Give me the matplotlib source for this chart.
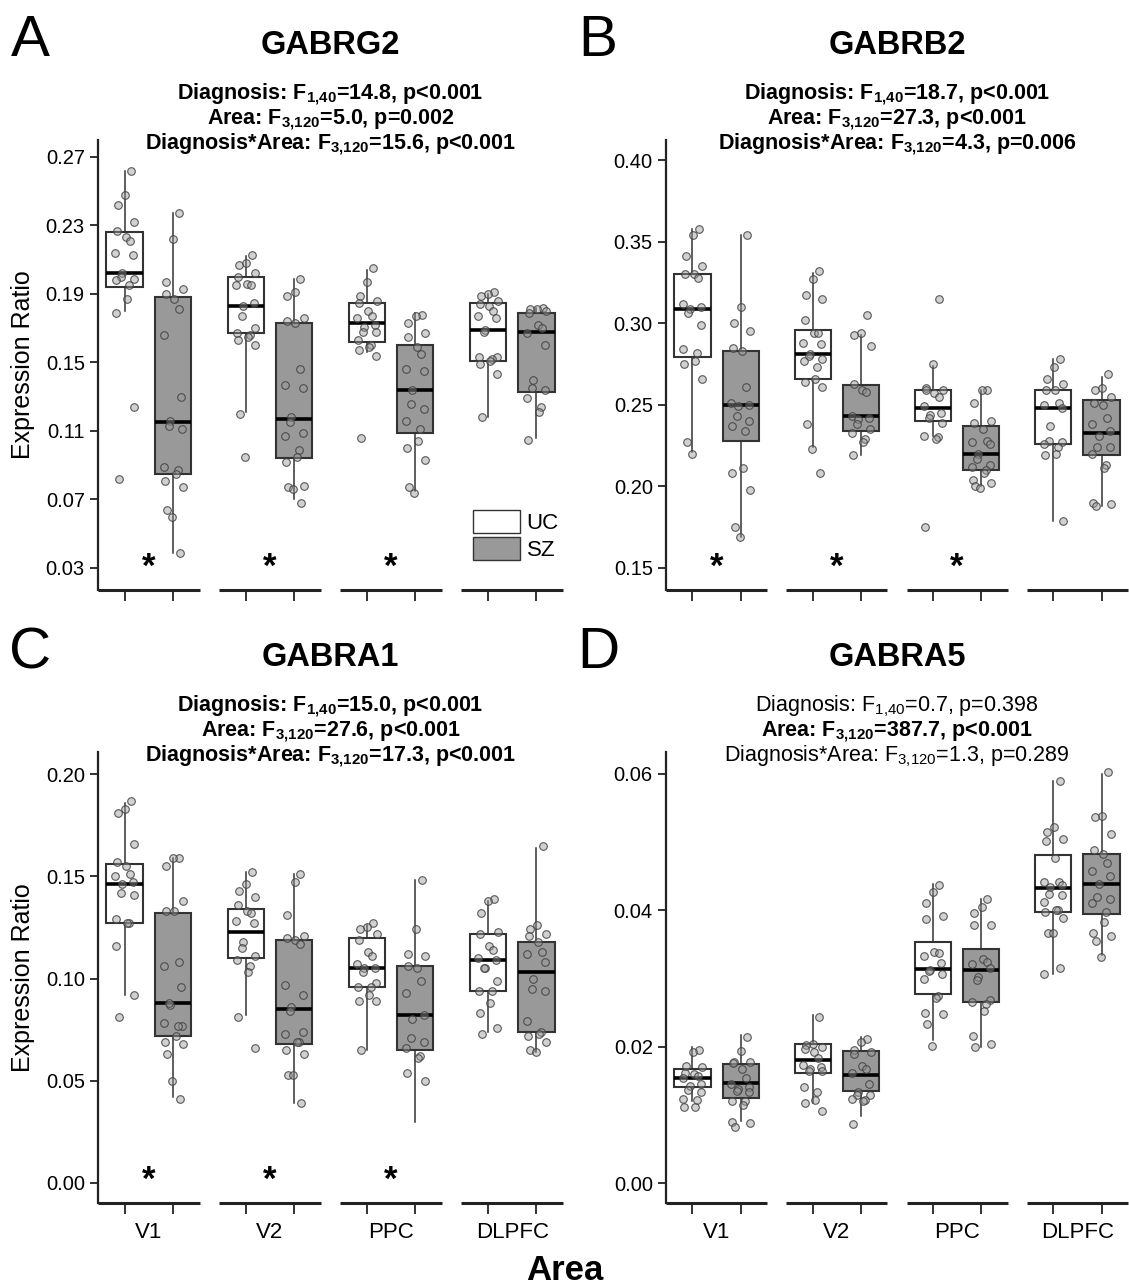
import numpy as np
import matplotlib
matplotlib.use("Agg")
import matplotlib.pyplot as plt
import matplotlib.transforms as mtransforms
from matplotlib.patches import Patch

plt.rcParams['font.family'] = ['Liberation Sans', 'DejaVu Sans']
plt.rcParams['mathtext.fontset'] = 'custom'
plt.rcParams['mathtext.rm'] = 'Liberation Sans'
plt.rcParams['mathtext.bf'] = 'Liberation Sans:bold'
plt.rcParams['mathtext.it'] = 'Liberation Sans:italic'

areas = ["V1", "V2", "PPC", "DLPFC"]
groups = ["UC", "SZ"]

# box stats per area: (whislo, q1, median, q3, whishi)
gabrg2_uc_box = [(0.180, 0.194, 0.202, 0.226, 0.262), (0.121, 0.167, 0.183, 0.200, 0.212),
                 (0.156, 0.162, 0.173, 0.185, 0.204), (0.118, 0.151, 0.169, 0.185, 0.190)]
gabrg2_sz_box = [(0.039, 0.085, 0.115, 0.188, 0.237), (0.070, 0.094, 0.117, 0.173, 0.199),
                 (0.075, 0.109, 0.134, 0.160, 0.179), (0.106, 0.133, 0.168, 0.179, 0.182)]
gabrg2_uc_pts = [
    [0.262, 0.248, 0.242, 0.232, 0.227, 0.223, 0.221, 0.214, 0.213, 0.202, 0.200, 0.199, 0.198, 0.195, 0.187, 0.179, 0.124, 0.082],
    [0.213, 0.208, 0.207, 0.202, 0.200, 0.196, 0.195, 0.195, 0.185, 0.183, 0.177, 0.170, 0.167, 0.166, 0.165, 0.163, 0.160, 0.120, 0.095],
    [0.205, 0.197, 0.189, 0.186, 0.185, 0.180, 0.177, 0.176, 0.172, 0.171, 0.168, 0.168, 0.163, 0.160, 0.159, 0.157, 0.154, 0.106],
    [0.191, 0.190, 0.189, 0.186, 0.184, 0.183, 0.180, 0.177, 0.176, 0.169, 0.168, 0.153, 0.153, 0.152, 0.151, 0.149, 0.143, 0.118],
]
gabrg2_sz_pts = [
    [0.237, 0.222, 0.197, 0.193, 0.190, 0.187, 0.181, 0.166, 0.130, 0.116, 0.113, 0.111, 0.089, 0.087, 0.085, 0.081, 0.077, 0.064, 0.060, 0.039],
    [0.199, 0.191, 0.189, 0.176, 0.174, 0.173, 0.146, 0.137, 0.135, 0.118, 0.115, 0.109, 0.107, 0.099, 0.095, 0.092, 0.078, 0.077, 0.076, 0.068],
    [0.178, 0.177, 0.173, 0.167, 0.165, 0.159, 0.155, 0.146, 0.145, 0.134, 0.126, 0.123, 0.116, 0.111, 0.104, 0.100, 0.093, 0.077, 0.074],
    [0.182, 0.181, 0.181, 0.180, 0.179, 0.172, 0.170, 0.167, 0.160, 0.140, 0.135, 0.134, 0.129, 0.124, 0.121, 0.105],
]

gabrb2_uc_box = [(0.221, 0.279, 0.309, 0.330, 0.358), (0.224, 0.266, 0.281, 0.296, 0.331),
                 (0.231, 0.240, 0.248, 0.259, 0.274), (0.179, 0.226, 0.248, 0.259, 0.278)]
gabrb2_sz_box = [(0.169, 0.228, 0.250, 0.283, 0.354), (0.219, 0.234, 0.243, 0.262, 0.293),
                 (0.200, 0.210, 0.220, 0.237, 0.259), (0.188, 0.219, 0.233, 0.253, 0.267)]
gabrb2_uc_pts = [
    [0.358, 0.354, 0.341, 0.335, 0.330, 0.330, 0.328, 0.312, 0.310, 0.309, 0.306, 0.299, 0.284, 0.282, 0.277, 0.275, 0.266, 0.227, 0.220],
    [0.332, 0.327, 0.317, 0.315, 0.302, 0.294, 0.294, 0.288, 0.287, 0.281, 0.280, 0.278, 0.277, 0.273, 0.266, 0.264, 0.261, 0.238, 0.223, 0.208],
    [0.315, 0.275, 0.260, 0.259, 0.259, 0.257, 0.255, 0.249, 0.245, 0.244, 0.242, 0.239, 0.231, 0.230, 0.229, 0.175],
    [0.278, 0.273, 0.266, 0.263, 0.259, 0.259, 0.251, 0.250, 0.248, 0.237, 0.228, 0.227, 0.226, 0.224, 0.220, 0.219, 0.179],
]
gabrb2_sz_pts = [
    [0.354, 0.310, 0.300, 0.295, 0.285, 0.283, 0.261, 0.251, 0.250, 0.249, 0.243, 0.240, 0.237, 0.234, 0.211, 0.208, 0.198, 0.175, 0.169],
    [0.305, 0.294, 0.293, 0.286, 0.263, 0.259, 0.258, 0.243, 0.242, 0.241, 0.238, 0.235, 0.233, 0.229, 0.227, 0.219],
    [0.259, 0.259, 0.251, 0.240, 0.239, 0.235, 0.228, 0.227, 0.226, 0.220, 0.217, 0.213, 0.212, 0.210, 0.208, 0.204, 0.202, 0.200, 0.199],
    [0.269, 0.260, 0.259, 0.255, 0.251, 0.250, 0.242, 0.238, 0.234, 0.231, 0.224, 0.224, 0.220, 0.213, 0.211, 0.190, 0.189, 0.188],
]

gabra1_uc_box = [(0.092, 0.127, 0.146, 0.156, 0.186), (0.082, 0.110, 0.123, 0.134, 0.152),
                 (0.065, 0.096, 0.105, 0.120, 0.126), (0.074, 0.094, 0.109, 0.122, 0.138)]
gabra1_sz_box = [(0.042, 0.072, 0.088, 0.132, 0.159), (0.039, 0.068, 0.085, 0.119, 0.151),
                 (0.030, 0.065, 0.082, 0.106, 0.148), (0.064, 0.074, 0.103, 0.118, 0.164)]
gabra1_uc_pts = [
    [0.187, 0.183, 0.181, 0.166, 0.157, 0.155, 0.151, 0.150, 0.147, 0.146, 0.142, 0.141, 0.129, 0.127, 0.127, 0.116, 0.092, 0.081],
    [0.152, 0.146, 0.143, 0.140, 0.136, 0.133, 0.132, 0.128, 0.127, 0.118, 0.115, 0.111, 0.109, 0.106, 0.103, 0.081, 0.066],
    [0.127, 0.125, 0.124, 0.122, 0.119, 0.113, 0.111, 0.107, 0.105, 0.105, 0.103, 0.098, 0.096, 0.096, 0.092, 0.089, 0.089, 0.065],
    [0.139, 0.138, 0.132, 0.123, 0.122, 0.116, 0.114, 0.110, 0.109, 0.105, 0.105, 0.099, 0.094, 0.094, 0.088, 0.083, 0.076, 0.073],
]
gabra1_sz_pts = [
    [0.159, 0.159, 0.155, 0.138, 0.133, 0.133, 0.108, 0.106, 0.096, 0.087, 0.088, 0.077, 0.078, 0.077, 0.072, 0.069, 0.068, 0.063, 0.050, 0.041],
    [0.151, 0.147, 0.131, 0.121, 0.120, 0.119, 0.117, 0.097, 0.092, 0.086, 0.084, 0.074, 0.073, 0.069, 0.069, 0.065, 0.063, 0.053, 0.053, 0.039],
    [0.148, 0.124, 0.112, 0.111, 0.106, 0.105, 0.099, 0.093, 0.082, 0.080, 0.071, 0.069, 0.066, 0.062, 0.061, 0.054, 0.050],
    [0.165, 0.126, 0.124, 0.122, 0.121, 0.118, 0.113, 0.112, 0.108, 0.100, 0.095, 0.094, 0.079, 0.074, 0.073, 0.072, 0.069, 0.065, 0.064],
]

gabra5_uc_box = [(0.0121, 0.0141, 0.0154, 0.0167, 0.0199), (0.0117, 0.0162, 0.0180, 0.0204, 0.0246),
                 (0.0210, 0.0278, 0.0314, 0.0354, 0.0439), (0.0307, 0.0397, 0.0433, 0.0481, 0.0589)]
gabra5_sz_box = [(0.0091, 0.0125, 0.0147, 0.0174, 0.0217), (0.0098, 0.0135, 0.0159, 0.0194, 0.0215),
                 (0.0200, 0.0265, 0.0312, 0.0343, 0.0416), (0.0334, 0.0395, 0.0439, 0.0482, 0.0600)]
gabra5_uc_pts = [
    [0.0195, 0.0193, 0.0172, 0.0171, 0.0162, 0.0160, 0.0157, 0.0154, 0.0145, 0.0142, 0.0137, 0.0134, 0.0124, 0.0122, 0.0111, 0.0111],
    [0.0243, 0.0204, 0.0202, 0.0200, 0.0197, 0.0193, 0.0183, 0.0173, 0.0171, 0.0168, 0.0164, 0.0165, 0.0141, 0.0133, 0.0122, 0.0117, 0.0106],
    [0.0437, 0.0427, 0.0411, 0.0391, 0.0387, 0.0339, 0.0337, 0.0333, 0.0323, 0.0312, 0.0311, 0.0306, 0.0300, 0.0275, 0.0272, 0.0250, 0.0248, 0.0234, 0.0201],
    [0.0589, 0.0522, 0.0515, 0.0505, 0.0502, 0.0476, 0.0442, 0.0441, 0.0437, 0.0434, 0.0424, 0.0423, 0.0412, 0.0401, 0.0400, 0.0397, 0.0389, 0.0367, 0.0366, 0.0315, 0.0307],
]
gabra5_sz_pts = [
    [0.0215, 0.0194, 0.0178, 0.0177, 0.0176, 0.0168, 0.0154, 0.0145, 0.0141, 0.0138, 0.0135, 0.0134, 0.0121, 0.0120, 0.0115, 0.0090, 0.0088, 0.0082],
    [0.0211, 0.0207, 0.0195, 0.0192, 0.0189, 0.0172, 0.0167, 0.0162, 0.0145, 0.0134, 0.0130, 0.0129, 0.0124, 0.0122, 0.0121, 0.0087],
    [0.0416, 0.0405, 0.0396, 0.0379, 0.0379, 0.0328, 0.0324, 0.0322, 0.0315, 0.0302, 0.0298, 0.0269, 0.0266, 0.0263, 0.0252, 0.0216, 0.0204, 0.0199],
    [0.0602, 0.0538, 0.0537, 0.0512, 0.0489, 0.0482, 0.0469, 0.0458, 0.0450, 0.0439, 0.0419, 0.0416, 0.0411, 0.0398, 0.0383, 0.0367, 0.0362, 0.0355, 0.0332],
]

# ANOVA text: (label, df subscript, rest, bold)
gabrg2_stats = [("Diagnosis", "1,40", "14.8, p<0.001", True), ("Area", "3,120", "5.0, p=0.002", True),
                ("Diagnosis*Area", "3,120", "15.6, p<0.001", True)]
gabrb2_stats = [("Diagnosis", "1,40", "18.7, p<0.001", True), ("Area", "3,120", "27.3, p<0.001", True),
                ("Diagnosis*Area", "3,120", "4.3, p=0.006", True)]
gabra1_stats = [("Diagnosis", "1,40", "15.0, p<0.001", True), ("Area", "3,120", "27.6, p<0.001", True),
                ("Diagnosis*Area", "3,120", "17.3, p<0.001", True)]
gabra5_stats = [("Diagnosis", "1,40", "0.7, p=0.398", False), ("Area", "3,120", "387.7, p<0.001", True),
                ("Diagnosis*Area", "3,120", "1.3, p=0.289", False)]

# significant UC vs SZ per area
gabrg2_sig = [True, True, True, False]
gabrb2_sig = [True, True, True, False]
gabra1_sig = [True, True, True, False]
gabra5_sig = [False, False, False, False]

W, H = 1129, 1286
fig = plt.figure(figsize=(W / 100, H / 100), dpi=100)

UC_COLOR = "white"
SZ_COLOR = "#999999"
EDGE = "#333333"


def px_rect(left, top, right, bottom):
    return [left / W, 1 - bottom / H, (right - left) / W, (bottom - top) / H]


def jitter(n):
    # fixed spread of points around the box centre
    return 0.08 * np.sin(np.arange(n) * 2.4 + 0.7)


def stat_line(label, sub, rest, bold):
    sub = sub.replace(",", "{,}")
    if bold:
        return label + ": F$_{\\mathbf{" + sub + "}}$=" + rest
    return label + ": F$_{\\mathrm{" + sub + "}}$=" + rest


def draw_panel(rect, letter, gene, stats, uc_box, sz_box, uc_pts, sz_pts, sig,
               ylim, yticks, ylab, xlabels, legend=False):
    ax = fig.add_axes(rect)
    ax.set_xlim(-0.42, 3.42)
    ax.set_ylim(*ylim)
    for i, (box, pts, color) in enumerate([(uc_box, uc_pts, UC_COLOR), (sz_box, sz_pts, SZ_COLOR)]):
        off = -0.2 if i == 0 else 0.2
        st = [dict(whislo=b[0], q1=b[1], med=b[2], q3=b[3], whishi=b[4], fliers=[]) for b in box]
        pos = [g + off for g in range(4)]
        ax.bxp(st, positions=pos, widths=0.3, patch_artist=True, showfliers=False, showcaps=False,
               manage_ticks=False,
               boxprops=dict(facecolor=color, edgecolor=EDGE, linewidth=1.5),
               medianprops=dict(color="black", linewidth=2.6),
               whiskerprops=dict(color=EDGE, linewidth=1.1))
        for g in range(4):
            y = np.array(pts[g])
            ax.scatter(g + off + jitter(len(y)), y, s=30, facecolor=(0.6, 0.6, 0.6, 0.45),
                       edgecolor=(0.25, 0.25, 0.25, 0.85), linewidth=0.8, zorder=4)

    trans = mtransforms.blended_transform_factory(ax.transData, ax.transAxes)
    for g in range(4):
        ax.plot([g - 0.42, g + 0.42], [0, 0], transform=trans, color="#222222", lw=2.2,
                solid_capstyle="butt", clip_on=False)
        if sig[g]:
            ax.text(g, 0.05, "*", transform=trans, ha="center", va="center", fontsize=25,
                    fontweight="bold")

    for s in ["top", "right", "bottom"]:
        ax.spines[s].set_visible(False)
    ax.spines["left"].set_linewidth(1.6)
    ax.spines["left"].set_color("#222222")

    ax.set_xticks([g + o for g in range(4) for o in (-0.2, 0.2)])
    ax.set_xticklabels([])
    ax.tick_params(axis="x", which="major", length=8, width=1.3, color="#222222")
    ax.set_xticks(range(4), minor=True)
    if xlabels:
        ax.set_xticklabels(areas, minor=True, fontsize=16)
    ax.tick_params(axis="x", which="minor", length=0, pad=14)
    ax.set_yticks(yticks)
    ax.set_yticklabels([f"{t:.2f}" for t in yticks])
    ax.tick_params(axis="y", length=6, width=1.3, labelsize=14.5, color="#222222")

    if ylab:
        ax.set_ylabel("Expression Ratio", fontsize=18, labelpad=8)

    if legend:
        handles = [Patch(facecolor=UC_COLOR, edgecolor=EDGE, label="UC"),
                   Patch(facecolor=SZ_COLOR, edgecolor=EDGE, label="SZ")]
        ax.legend(handles=handles, loc="lower right", bbox_to_anchor=(1.01, 0.045), frameon=False,
                  fontsize=16, handlelength=2.1, handleheight=1.2, handletextpad=0.3,
                  labelspacing=0.12, borderaxespad=0)

    left_px = rect[0] * W
    top_px = (1 - rect[1] - rect[3]) * H
    cx = (rect[0] + rect[2] / 2)
    fig.text((left_px - 68) / W, 1 - (top_px - 84) / H, letter, fontsize=42, ha="center", va="baseline")
    fig.text(cx, 1 - (top_px - 86) / H, gene, fontsize=23.5, fontweight="bold", ha="center", va="baseline")
    for k, (lab, sub, rest, bold) in enumerate(stats):
        fig.text(cx, 1 - (top_px - 41 + 25 * k) / H, stat_line(lab, sub, rest, bold), fontsize=15.5,
                 fontweight="bold" if bold else "normal", ha="center", va="baseline")
    return ax


draw_panel(px_rect(98, 140, 563, 590), "A", "GABRG2", gabrg2_stats, gabrg2_uc_box, gabrg2_sz_box,
           gabrg2_uc_pts, gabrg2_sz_pts, gabrg2_sig, (0.01715, 0.2799), np.arange(0.03, 0.28, 0.04),
           True, False, legend=True)
draw_panel(px_rect(666, 140, 1128, 590), "B", "GABRB2", gabrb2_stats, gabrb2_uc_box, gabrb2_sz_box,
           gabrb2_uc_pts, gabrb2_sz_pts, gabrb2_sig, (0.1365, 0.4123), np.arange(0.15, 0.41, 0.05),
           False, False)
draw_panel(px_rect(98, 752, 563, 1203), "C", "GABRA1", gabra1_stats, gabra1_uc_box, gabra1_sz_box,
           gabra1_uc_pts, gabra1_sz_pts, gabra1_sig, (-0.0098, 0.2108), np.arange(0.0, 0.21, 0.05),
           True, True)
draw_panel(px_rect(666, 752, 1128, 1203), "D", "GABRA5", gabra5_stats, gabra5_uc_box, gabra5_sz_box,
           gabra5_uc_pts, gabra5_sz_pts, gabra5_sig, (-0.0029, 0.0632), np.arange(0.0, 0.061, 0.02),
           False, True)

fig.text(565 / W, 1 - 1280 / H, "Area", fontsize=25, fontweight="bold", ha="center", va="baseline")

fig.savefig("out.png", dpi=100)
